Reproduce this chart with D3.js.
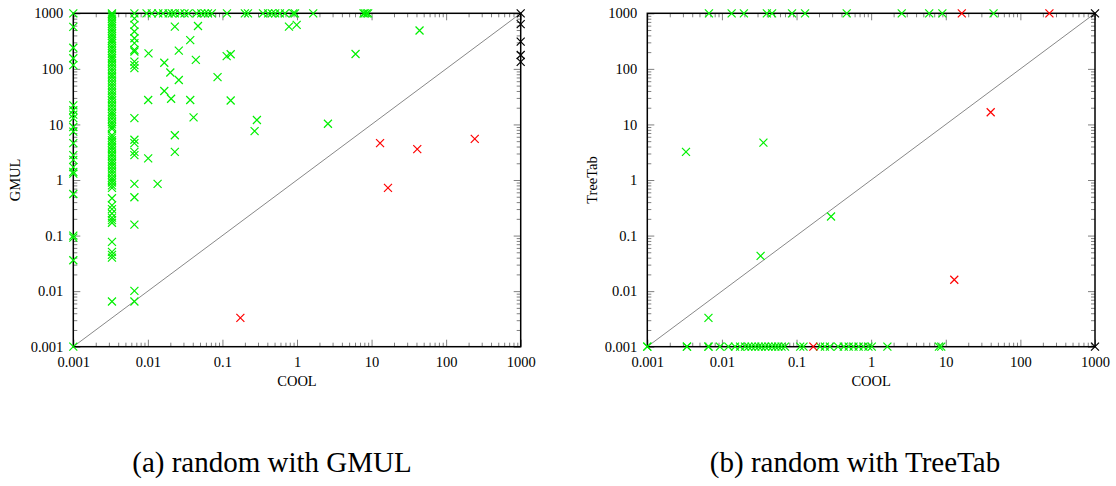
<!DOCTYPE html>
<html>
<head>
<meta charset="utf-8">
<script src="https://cdn.jsdelivr.net/npm/d3@7"></script>
<style>
html,body{margin:0;padding:0;background:#fff;}
svg{display:block;}
text{font-family:"Liberation Serif","DejaVu Serif",serif;fill:#000;}
</style>
</head>
<body>
<svg id="chart" width="1116" height="486"></svg>
<script>
// ---------- data ----------
const tickValues = [0.001, 0.01, 0.1, 1, 10, 100, 1000];
const tickLabels = ["0.001", "0.01", "0.1", "1", "10", "100", "1000"];
const xTitle = "COOL";
const panelTitles = ["GMUL", "TreeTab"];
const captions = ["(a) random with GMUL", "(b) random with TreeTab"];

// Panel (a): [COOL, GMUL]
const gmulCol1 = [1000, 570, 240, 155, 117, 22, 18, 15, 13, 9, 7.4, 4.6, 2.8, 2.3, 1.7, 1.4, 1.3, 0.56, 0.1, 0.092, 0.036, 0.001];
const gmulCol2 = [1000, 950, 880, 800, 720, 650, 590, 530, 480, 430, 390, 350, 320, 290, 260, 235, 210, 190, 170, 155, 140, 125, 112, 100, 90, 80, 72, 64, 57, 51, 46, 41, 37, 33, 30, 27, 24, 21.5, 19, 17, 15.5, 14, 12.5, 11, 10, 9, 8.3, 6.4, 5.8, 5.2, 4.7, 4.2, 3.8, 3.4, 3.0, 2.7, 2.4, 2.15, 1.95, 1.75, 1.55, 1.4, 1.25, 1.1, 1.0, 0.9, 0.8, 0.72, 0.47, 0.35, 0.3, 0.25, 0.21, 0.19, 0.17, 0.077, 0.051, 0.045, 0.04, 0.0065];
const gmulCol3 = [1000, 810, 620, 470, 355, 290, 220, 205, 135, 117, 103, 13, 5.3, 4.6, 3.2, 2.8, 0.85, 0.49, 0.157, 0.0101, 0.0065];
const gmulTopRow = [0.0096, 0.0113, 0.0138, 0.016, 0.019, 0.021, 0.023, 0.027, 0.031, 0.035, 0.045, 0.052, 0.058, 0.064, 0.072, 0.115, 0.2, 0.22, 0.35, 0.41, 0.46, 0.51, 0.59, 0.69, 0.89, 0.94, 1.65, 7.8, 8.1, 8.6, 9.0];
const gmulGreenOther = [
  [0.0102, 190], [0.023, 575], [0.047, 590], [0.037, 330], [0.026, 213], [0.044, 145],
  [0.0166, 129], [0.114, 170], [0.129, 183], [0.02, 86], [0.026, 63], [0.086, 71],
  [0.0166, 40], [0.0101, 27.5], [0.0205, 29], [0.037, 27.5], [0.129, 27], [0.041, 13.4],
  [0.29, 12], [0.27, 7.6], [0.023, 6.4], [0.023, 3.2], [0.0101, 2.45], [0.0135, 0.85],
  [2.6, 10.3], [6.1, 185], [44, 490], [0.78, 575], [0.99, 620]
];
const gmulRed = [[13, 4.6], [41, 3.6], [242, 5.5], [16.6, 0.72], [0.174, 0.0033]];
const gmulBlack = [[1000, 1000], [1000, 640], [1000, 309], [1000, 178], [1000, 134]];

// Panel (b): [COOL, TreeTab]
const treeTopRow = [0.0067, 0.0135, 0.0197, 0.04, 0.047, 0.087, 0.13, 0.47, 2.57, 6.0, 9.0, 43.7];
const treeBottomRow = [0.001, 0.001, 0.0034, 0.0034, 0.0066, 0.0066, 0.0094, 0.0122, 0.015, 0.0175, 0.0204, 0.0226, 0.025, 0.028, 0.031, 0.034, 0.038, 0.042, 0.047, 0.052, 0.057, 0.063, 0.070, 0.112, 0.124, 0.207, 0.24, 0.28, 0.36, 0.43, 0.50, 0.58, 0.68, 0.79, 0.92, 1.02, 1.65, 8.1, 8.7];
const treeGreenOther = [[0.0033, 3.2], [0.036, 4.7], [0.29, 0.22], [0.033, 0.043], [0.0066, 0.0033]];
const treeRed = [[16.4, 1000], [245, 1000], [40, 16.6], [13, 0.016], [0.168, 0.001]];
const treeBlack = [[1000, 1000], [1000, 0.001]];

// ---------- build series ----------
const gmulGreen = []
  .concat(gmulCol1.map(v => [0.001, v]))
  .concat(gmulCol2.map(v => [0.0033, v]))
  .concat(gmulCol3.map(v => [0.0066, v]))
  .concat(gmulTopRow.map(v => [v, 1000]))
  .concat(gmulGreenOther);
const treeGreen = []
  .concat(treeTopRow.map(v => [v, 1000]))
  .concat(treeBottomRow.map(v => [v, 0.001]))
  .concat(treeGreenOther);

const panels = [
  {left: 73.3, right: 520.7, title: panelTitles[0], caption: captions[0], titleX: 20, capX: 272,
   series: [{pts: gmulGreen, color: "#00f000"}, {pts: gmulRed, color: "#ff0000"}, {pts: gmulBlack, color: "#000000"}]},
  {left: 647.3, right: 1095, title: panelTitles[1], caption: captions[1], titleX: 597, capX: 855,
   series: [{pts: treeGreen, color: "#00f000"}, {pts: treeRed, color: "#ff0000"}, {pts: treeBlack, color: "#000000"}]}
];
const plotTop = 13.3, plotBottom = 346.7;

const svg = d3.select("#chart");

panels.forEach(p => {
  const x = d3.scaleLog().domain([0.001, 1000]).range([p.left, p.right]);
  const y = d3.scaleLog().domain([0.001, 1000]).range([plotBottom, plotTop]);
  const all = x.ticks();
  const minor = all.filter(v => tickValues.indexOf(v) < 0);
  const fmt = v => tickLabels[tickValues.indexOf(v)];
  const g = svg.append("g");

  function axis(gen, vals, size, labels, transform) {
    const a = gen.tickValues(vals).tickSize(size).tickPadding(10)
      .tickFormat(labels ? fmt : () => "");
    const ag = g.append("g").attr("transform", transform).call(a);
    ag.select(".domain").remove();
    ag.selectAll("line").attr("stroke", "#808080").attr("stroke-width", 1);
    ag.selectAll("text").style("font-family", "'Liberation Serif',serif").style("font-size", "14.5px").attr("fill", "#000");
    return ag;
  }
  axis(d3.axisBottom(x), tickValues, -7, true, `translate(0,${plotBottom})`);
  axis(d3.axisBottom(x), minor, -4, false, `translate(0,${plotBottom})`);
  axis(d3.axisTop(x), tickValues, -7, false, `translate(0,${plotTop})`);
  axis(d3.axisTop(x), minor, -4, false, `translate(0,${plotTop})`);
  axis(d3.axisLeft(y), tickValues, -7, true, `translate(${p.left},0)`);
  axis(d3.axisLeft(y), minor, -4, false, `translate(${p.left},0)`);
  axis(d3.axisRight(y), tickValues, -7, false, `translate(${p.right},0)`);
  axis(d3.axisRight(y), minor, -4, false, `translate(${p.right},0)`);

  g.append("line")
    .attr("x1", x(0.001)).attr("y1", y(0.001))
    .attr("x2", x(1000)).attr("y2", y(1000))
    .attr("stroke", "#888").attr("stroke-width", 1);

  g.append("rect")
    .attr("x", p.left).attr("y", plotTop)
    .attr("width", p.right - p.left).attr("height", plotBottom - plotTop)
    .attr("fill", "none").attr("stroke", "#000").attr("stroke-width", 1.5);

  p.series.forEach(s => {
    g.append("g").selectAll("path").data(s.pts).join("path")
      .attr("transform", d => `translate(${x(d[0])},${y(d[1])})`)
      .attr("d", "M-4,-4L4,4M-4,4L4,-4")
      .attr("stroke", s.color).attr("stroke-width", 1.2).attr("fill", "none");
  });

  g.append("text").attr("x", (p.left + p.right) / 2).attr("y", 386)
    .attr("text-anchor", "middle").style("font-size", "14.5px").text(xTitle);
  g.append("text").attr("transform", `translate(${p.titleX},180) rotate(-90)`)
    .attr("text-anchor", "middle").style("font-size", "14.5px").text(p.title);
  g.append("text").attr("x", p.capX).attr("y", 472)
    .attr("text-anchor", "middle").style("font-size", "29px").text(p.caption);
});
</script>
</body>
</html>
